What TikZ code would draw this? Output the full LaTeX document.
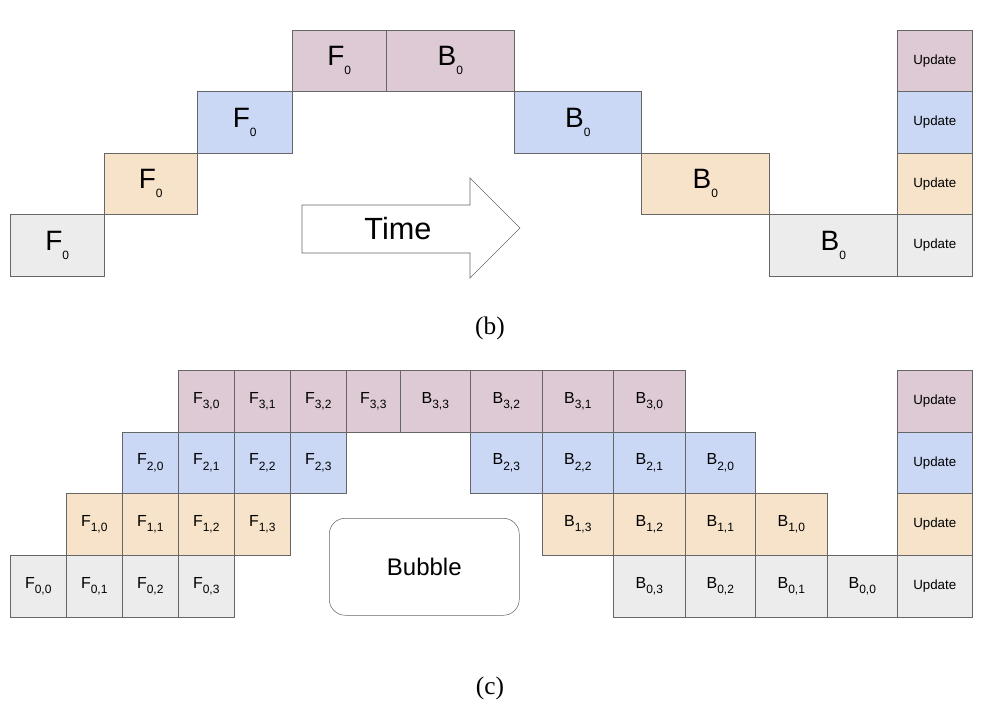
\documentclass[tikz,border=0pt]{standalone}
\usepackage{fontspec}
\setmainfont{Liberation Sans}
\newfontfamily\serifl{Liberation Serif}
\definecolor{cP}{HTML}{DDCAD5}
\definecolor{cB}{HTML}{CAD8F5}
\definecolor{cO}{HTML}{F6E3C9}
\definecolor{cG}{HTML}{ECECEC}
\definecolor{ln}{HTML}{666666}
\newcommand{\bx}[7]{\node[draw=ln,fill=#6,minimum width={((#4)-(#2))*0.75pt},minimum height={((#5)-(#3))*0.75pt},inner sep=0pt,anchor=north west] (#1) at (#2,#3) {#7};}
\newcommand{\BF}[2]{\fontsize{21}{21}\selectfont #1\raisebox{-0.6ex}{\fontsize{9}{9}\selectfont #2}}
\newcommand{\SF}[2]{\fontsize{12}{12}\selectfont #1\raisebox{-0.6ex}{\fontsize{9}{9}\selectfont #2}}
\newcommand{\UP}{\fontsize{10}{10}\selectfont Update}
\begin{document}
\begin{tikzpicture}[x=0.75pt,y=-0.75pt]
\useasboundingbox (0,0) rectangle (989,724);
% (b)
\bx{b1}{10}{214}{104}{276}{cG}{\BF{F}{0}}
\bx{b2}{104}{153}{197}{214}{cO}{\BF{F}{0}}
\bx{b3}{197}{91}{292}{153}{cB}{\BF{F}{0}}
\bx{b4}{292}{30}{386}{91}{cP}{\BF{F}{0}}
\bx{b5}{386}{30}{514}{91}{cP}{\BF{B}{0}}
\bx{b6}{514}{91}{641}{153}{cB}{\BF{B}{0}}
\bx{b7}{641}{153}{769}{214}{cO}{\BF{B}{0}}
\bx{b8}{769}{214}{897}{276}{cG}{\BF{B}{0}}
\bx{bu1}{897}{30}{972}{91}{cP}{\UP}
\bx{bu2}{897}{91}{972}{153}{cB}{\UP}
\bx{bu3}{897}{153}{972}{214}{cO}{\UP}
\bx{bu4}{897}{214}{972}{276}{cG}{\UP}
\draw[ln,fill=white] (302,205) -- (470,205) -- (470,178) -- (520,228) -- (470,278) -- (470,253) -- (302,253) -- cycle;
\node (time) at (398,229) {\fontsize{23}{23}\selectfont Time};
\node (lb) at (490,328) {\serifl\fontsize{19}{19}\selectfont (b)};
% (c)
\bx{f00}{10}{555}{66}{617}{cG}{\SF{F}{0,0}}
\bx{f01}{66}{555}{122}{617}{cG}{\SF{F}{0,1}}
\bx{f02}{122}{555}{178}{617}{cG}{\SF{F}{0,2}}
\bx{f03}{178}{555}{234}{617}{cG}{\SF{F}{0,3}}
\bx{f10}{66}{493}{122}{555}{cO}{\SF{F}{1,0}}
\bx{f11}{122}{493}{178}{555}{cO}{\SF{F}{1,1}}
\bx{f12}{178}{493}{234}{555}{cO}{\SF{F}{1,2}}
\bx{f13}{234}{493}{290}{555}{cO}{\SF{F}{1,3}}
\bx{f20}{122}{432}{178}{493}{cB}{\SF{F}{2,0}}
\bx{f21}{178}{432}{234}{493}{cB}{\SF{F}{2,1}}
\bx{f22}{234}{432}{290}{493}{cB}{\SF{F}{2,2}}
\bx{f23}{290}{432}{346}{493}{cB}{\SF{F}{2,3}}
\bx{f30}{178}{370}{234}{432}{cP}{\SF{F}{3,0}}
\bx{f31}{234}{370}{290}{432}{cP}{\SF{F}{3,1}}
\bx{f32}{290}{370}{346}{432}{cP}{\SF{F}{3,2}}
\bx{f33}{346}{370}{400}{432}{cP}{\SF{F}{3,3}}
\bx{b33}{400}{370}{470}{432}{cP}{\SF{B}{3,3}}
\bx{b32}{470}{370}{542}{432}{cP}{\SF{B}{3,2}}
\bx{b31}{542}{370}{613}{432}{cP}{\SF{B}{3,1}}
\bx{b30}{613}{370}{685}{432}{cP}{\SF{B}{3,0}}
\bx{b23}{470}{432}{542}{493}{cB}{\SF{B}{2,3}}
\bx{b22}{542}{432}{613}{493}{cB}{\SF{B}{2,2}}
\bx{b21}{613}{432}{685}{493}{cB}{\SF{B}{2,1}}
\bx{b20}{685}{432}{755}{493}{cB}{\SF{B}{2,0}}
\bx{b13}{542}{493}{613}{555}{cO}{\SF{B}{1,3}}
\bx{b12}{613}{493}{685}{555}{cO}{\SF{B}{1,2}}
\bx{b11}{685}{493}{755}{555}{cO}{\SF{B}{1,1}}
\bx{b10}{755}{493}{827}{555}{cO}{\SF{B}{1,0}}
\bx{b03}{613}{555}{685}{617}{cG}{\SF{B}{0,3}}
\bx{b02}{685}{555}{755}{617}{cG}{\SF{B}{0,2}}
\bx{b01}{755}{555}{827}{617}{cG}{\SF{B}{0,1}}
\bx{b00}{827}{555}{897}{617}{cG}{\SF{B}{0,0}}
\bx{cu1}{897}{370}{972}{432}{cP}{\UP}
\bx{cu2}{897}{432}{972}{493}{cB}{\UP}
\bx{cu3}{897}{493}{972}{555}{cO}{\UP}
\bx{cu4}{897}{555}{972}{617}{cG}{\UP}
\node[draw=ln,rounded corners=12pt,minimum width={190*0.75pt},minimum height={97*0.75pt},anchor=north west,inner sep=0pt] (bub) at (329,518) {\fontsize{18}{18}\selectfont Bubble};
\node (lc) at (490,688) {\serifl\fontsize{19}{19}\selectfont (c)};
\end{tikzpicture}
\end{document}
